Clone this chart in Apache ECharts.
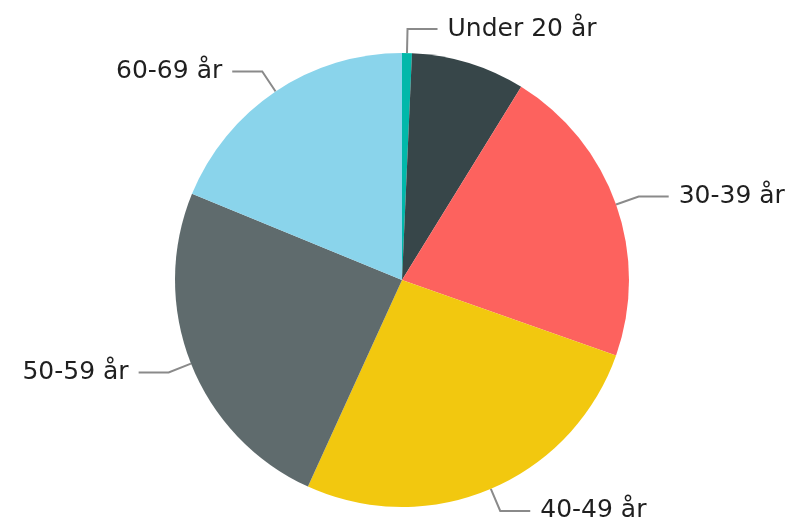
<!DOCTYPE html>
<html><head><meta charset="utf-8">
<script src="https://cdn.jsdelivr.net/npm/echarts@6/dist/echarts.min.js"></script>
<style>html,body{margin:0;padding:0;background:#fff}#c{width:801px;height:531px}</style>
</head><body><div id="c"></div>
<script>
const categories = ["Under 20 år","20-29 år","30-39 år","40-49 år","50-59 år","60-69 år"];
const values = [0.7, 8.1, 21.6, 26.4, 24.4, 18.8];
const showLabel = [true, false, true, true, true, true];
const colors = ["#01B8AA","#374649","#FD625E","#F2C80F","#5F6B6D","#8AD4EB"];

const chart = echarts.init(document.getElementById('c'), null, {renderer:'canvas'});
chart.setOption({
  animation:false,
  series:[{
    type:'pie',
    center:[402,280],
    radius:[0,227],
    startAngle:90,
    clockwise:true,
    color:colors,
    data:categories.map((n,i)=>({name:n,value:values[i],
      label:{show:showLabel[i]}, labelLine:{show:showLabel[i]}})),
    label:{
      fontFamily:'DejaVu Sans',
      fontSize:25,
      color:'#1f1f1f',
      distanceToLabelLine:10
    },
    labelLine:{
      length:24,
      length2:30,
      lineStyle:{color:'#8a8a8a',width:2}
    },
    itemStyle:{borderWidth:0}
  }]
});
</script></body></html>
